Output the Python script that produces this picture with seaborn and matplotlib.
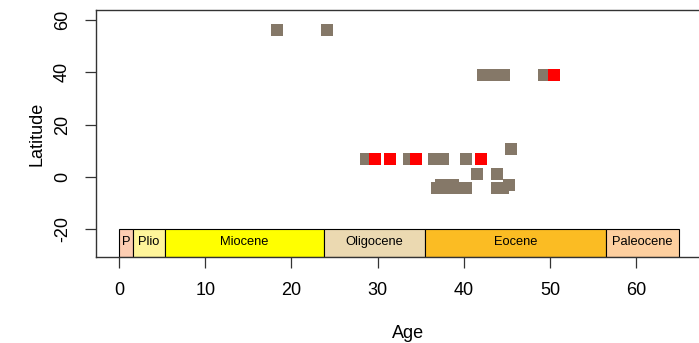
import matplotlib
matplotlib.use("Agg")
import matplotlib.pyplot as plt
import seaborn as sns
import pandas as pd

# Fossil occurrences (Age in Ma, Latitude)
age_gray = [18.3, 24.1, 42.2, 43.0, 43.9, 44.7, 49.3,
            28.65, 33.7, 36.5, 37.6, 40.2, 45.5, 41.5, 43.9,
            36.9, 38.0, 39.2, 40.3, 37.4, 38.8, 43.8, 44.6, 45.3]
lat_gray = [56, 56, 38.8, 38.8, 38.8, 38.8, 38.8,
            7.0, 7.0, 7.0, 7.0, 7.0, 10.8, 1.3, 1.3,
            -4.2, -4.2, -4.2, -4.2, -3.2, -3.2, -4.2, -4.2, -2.9]
age_red = [29.7, 31.4, 34.5, 42.0, 50.5]
lat_red = [7.0, 7.0, 7.0, 7.0, 38.8]

# Geological timescale
epochs = ["P", "Plio", "Miocene", "Oligocene", "Eocene", "Paleocene"]
epoch_start = [0.0, 1.6, 5.33, 23.8, 35.5, 56.5]
epoch_end = [1.6, 5.33, 23.8, 35.5, 56.5, 65.0]
epoch_colors = ["#FDCDB2", "#FFF59A", "#FFFF00", "#EBD9B1", "#FBBC23", "#FDCF9F"]

xticks = [0, 10, 20, 30, 40, 50, 60]
yticks = [-20, 0, 20, 40, 60]

sns.set_theme(style="white")
plt.rcParams['font.family'] = ['Liberation Sans', 'DejaVu Sans']

fig = plt.figure(figsize=(6.99, 3.43), dpi=100)
W, H = 699, 343
left_px, right_px, top_px, bottom_px = 96, 720, 10, 257
ax = fig.add_axes([left_px / W, 1 - bottom_px / H, (right_px - left_px) / W,
                   (bottom_px - top_px) / H])

ppx = 8.62   # px per Ma
x0 = 119
xmin = (left_px - x0) / ppx
xmax = (right_px - x0) / ppx
ppy = 2.62
y0 = 177
ymin = (y0 - bottom_px) / ppy
ymax = (y0 - top_px) / ppy

# timescale boxes
ts_top = -20
for lab, s, e, c in zip(epochs, epoch_start, epoch_end, epoch_colors):
    ax.bar(s, ts_top - ymin, width=e - s, bottom=ymin, align="edge",
           color=c, edgecolor="black", linewidth=0.8, zorder=2)
    ax.text((s + e) / 2, (ts_top + ymin) / 2 + 0.6, lab, ha="center", va="center",
            fontsize=9.3, color="black", zorder=3)

df_g = pd.DataFrame({"Age": age_gray, "Latitude": lat_gray})
df_r = pd.DataFrame({"Age": age_red, "Latitude": lat_red})
sns.scatterplot(data=df_g, x="Age", y="Latitude", marker="s", s=82,
                color="#857868", linewidth=0, ax=ax, zorder=4)
sns.scatterplot(data=df_r, x="Age", y="Latitude", marker="s", s=82,
                color="#FF0000", linewidth=0, ax=ax, zorder=5)

ax.set_xlim(xmin, xmax)
ax.set_ylim(ymin, ymax)
ax.set_xticks(xticks)
ax.set_yticks(yticks)
ax.set_yticklabels([str(v) for v in yticks], rotation=90, va="center")
ax.tick_params(axis="both", direction="out", length=8, width=0.9, color="#333333",
               labelsize=13, labelcolor="black", bottom=True, left=True, pad=10)
for side in ["left", "bottom", "top"]:
    ax.spines[side].set_visible(True)
    ax.spines[side].set_color("#333333")
    ax.spines[side].set_linewidth(1.0)
ax.spines["right"].set_visible(False)
ax.set_xlabel("Age", fontsize=13, labelpad=19, color="black")
ax.set_ylabel("Latitude", fontsize=13, labelpad=6, color="black")
ax.grid(False)

fig.savefig("out.png", dpi=100)
